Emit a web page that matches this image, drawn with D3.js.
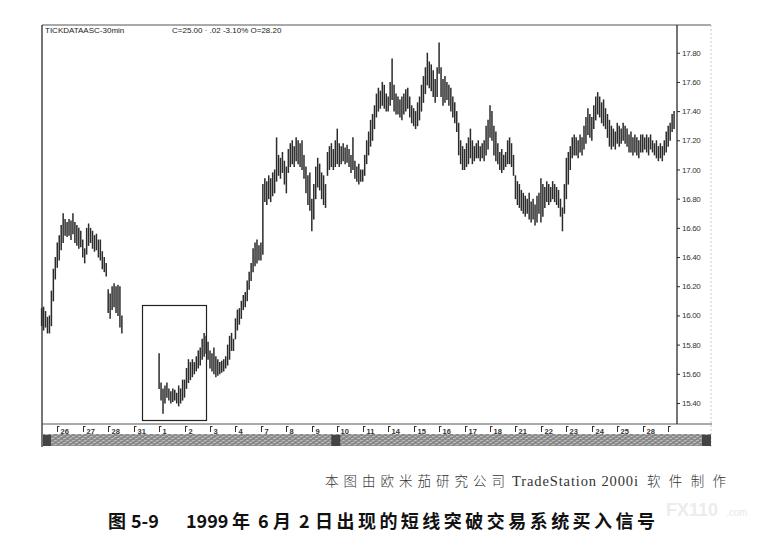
<!DOCTYPE html>
<html><head><meta charset="utf-8">
<script src="https://cdn.jsdelivr.net/npm/d3@7/dist/d3.min.js"></script>
<style>
html,body{margin:0;padding:0;background:#fff;}
svg{display:block;}
</style></head>
<body>
<script>
// ---------- data ----------
const symbolTitle = "TICKDATAASC-30min";
const quoteText = "C=25.00 · .02 -3.10% O=28.20";
const barsPerDay = 13;
const firstBar = 5;           // bar index of first visible bar (May 25 partial)
const dayLabels = ["26","27","28","31","1","2","3","4","7","8","9","10","11","14","15","16","17","18","21","22","23","24","25","28",""];
const priceTicks = [17.80,17.60,17.40,17.20,17.00,16.80,16.60,16.40,16.20,16.00,15.80,15.60,15.40];
const barHigh = [
 16.05,16.06,16.03,15.99,16.00,16.17,16.32,16.40,
 16.50,16.55,16.62,16.70,16.66,16.64,16.66,16.65,16.70,16.64,16.62,16.60,16.58,
 16.52,16.46,16.60,16.63,16.60,16.58,16.55,16.56,16.52,16.52,16.44,16.40,16.36,
 16.18,16.15,16.20,16.22,16.20,16.21,16.20,16.00,null,null,null,null,null,
 null,null,null,null,null,null,null,null,null,null,null,null,null,
 15.74,15.54,15.50,15.52,15.54,15.50,15.48,15.50,15.49,15.47,15.52,15.50,15.56,
 15.56,15.64,15.70,15.68,15.70,15.68,15.72,15.76,15.78,15.84,15.88,15.86,15.82,
 15.76,15.74,15.78,15.72,15.70,15.68,15.69,15.70,15.72,15.80,15.86,15.88,15.84,
 15.98,16.04,16.05,16.10,16.14,16.16,16.24,16.30,16.36,16.46,16.50,16.52,16.48,
 16.50,16.90,16.94,16.92,16.96,16.94,16.98,17.00,17.22,17.10,17.08,17.12,17.06,
 17.02,17.14,17.18,17.20,17.16,17.22,17.20,17.18,17.20,17.10,17.02,16.96,16.98,
 16.80,16.90,17.02,17.08,17.04,16.98,16.96,16.90,17.12,17.16,17.18,17.14,17.20,
 17.28,17.18,17.16,17.18,17.15,17.17,17.14,17.10,17.22,17.06,17.02,17.04,17.00,
 17.00,17.10,17.20,17.26,17.34,17.38,17.44,17.52,17.56,17.54,17.60,17.58,17.52,
 17.50,17.60,17.76,17.58,17.52,17.50,17.48,17.50,17.52,17.55,17.56,17.50,17.44,
 17.42,17.40,17.46,17.50,17.58,17.64,17.70,17.80,17.74,17.72,17.68,17.62,17.70,
 17.87,17.70,17.62,17.64,17.60,17.58,17.56,17.50,17.46,17.40,17.32,17.20,17.16,
 17.14,17.18,17.22,17.28,17.20,17.16,17.18,17.20,17.16,17.18,17.20,17.30,17.34,
 17.44,17.40,17.30,17.26,17.18,17.12,17.14,17.10,17.12,17.20,17.22,17.18,17.10,
 16.96,16.92,16.90,16.86,16.84,16.82,16.80,16.84,16.78,16.80,16.76,16.82,16.84,
 16.94,16.90,16.88,16.92,16.90,16.88,16.92,16.90,16.88,16.86,16.80,16.74,16.90,
 17.08,17.12,17.16,17.22,17.24,17.22,17.20,17.24,17.22,17.30,17.36,17.42,17.38,
 17.36,17.44,17.50,17.53,17.50,17.46,17.48,17.42,17.38,17.34,17.30,17.28,17.26,
 17.32,17.30,17.28,17.32,17.30,17.28,17.24,17.26,17.22,17.24,17.22,17.20,17.24,
 17.24,17.22,17.24,17.22,17.24,17.20,17.18,17.20,17.16,17.18,17.16,17.20,17.26,
 17.30,17.32,17.38,17.40
];
const barLow = [
 15.93,15.90,15.92,15.88,15.88,15.93,16.10,16.25,
 16.33,16.38,16.45,16.50,16.55,16.54,16.55,16.52,16.56,16.50,16.48,16.46,16.47,
 16.40,16.36,16.42,16.48,16.50,16.46,16.44,16.45,16.40,16.38,16.32,16.30,16.27,
 16.02,15.98,16.04,16.06,16.02,16.00,15.92,15.88,null,null,null,null,null,
 null,null,null,null,null,null,null,null,null,null,null,null,null,
 15.50,15.42,15.33,15.40,15.44,15.42,15.40,15.41,15.42,15.40,15.38,15.40,15.42,
 15.44,15.50,15.54,15.56,15.58,15.60,15.62,15.64,15.66,15.70,15.72,15.74,15.70,
 15.64,15.62,15.60,15.58,15.59,15.60,15.61,15.62,15.64,15.66,15.70,15.76,15.76,
 15.84,15.90,15.94,15.98,16.04,16.06,16.10,16.18,16.24,16.30,16.34,16.36,16.38,
 16.38,16.42,16.78,16.76,16.80,16.78,16.82,16.84,16.92,16.96,16.94,16.98,16.90,
 16.84,16.98,17.02,17.04,17.02,17.06,17.04,17.02,17.00,16.94,16.84,16.76,16.72,
 16.58,16.66,16.80,16.88,16.86,16.80,16.76,16.74,16.96,17.00,17.02,17.00,17.02,
 17.04,17.02,17.04,17.06,17.04,17.05,17.02,16.98,17.00,16.94,16.92,16.90,16.92,
 16.92,16.96,17.04,17.10,17.16,17.20,17.28,17.36,17.40,17.42,17.44,17.42,17.40,
 17.40,17.44,17.48,17.40,17.38,17.38,17.36,17.34,17.38,17.40,17.42,17.36,17.32,
 17.30,17.28,17.30,17.34,17.40,17.46,17.52,17.58,17.56,17.54,17.50,17.46,17.50,
 17.66,17.50,17.44,17.46,17.48,17.44,17.40,17.36,17.32,17.26,17.10,17.04,17.00,
 17.00,17.02,17.04,17.08,17.04,17.06,17.08,17.08,17.06,17.08,17.06,17.10,17.14,
 17.22,17.20,17.10,17.06,17.04,17.00,16.98,17.00,17.02,17.04,17.04,17.02,16.96,
 16.80,16.76,16.74,16.72,16.70,16.68,16.70,16.66,16.64,16.66,16.62,16.64,16.70,
 16.64,16.68,16.74,16.78,16.76,16.78,16.80,16.78,16.76,16.74,16.68,16.58,16.70,
 16.80,16.90,17.00,17.08,17.10,17.10,17.08,17.12,17.10,17.14,17.18,17.24,17.22,
 17.20,17.28,17.34,17.38,17.36,17.32,17.30,17.28,17.22,17.16,17.14,17.16,17.14,
 17.18,17.16,17.18,17.20,17.18,17.16,17.12,17.12,17.10,17.12,17.10,17.08,17.12,
 17.12,17.14,17.12,17.10,17.14,17.12,17.10,17.08,17.06,17.08,17.06,17.10,17.12,
 17.16,17.20,17.26,17.28
];
// annotation box around the June 1-2 breakout (bar index / price)
const boxBars = [56.3, 89.0];
const boxPrices = [16.07, 15.28];
const captionLine1 = ["本图由欧米茄研究公司", "TradeStation 2000i", "软件制作"];
const captionLine2 = ["图", "5-9", "1999", "年", "6", "月", "2", "日出现的短线突破交易系统买入信号"];
const watermark = ["FX110", ".com"];

// ---------- drawing ----------
(function draw() {
const W = 761, H = 548;
const svg = d3.select("body").append("svg").attr("width", W).attr("height", H);
svg.append("rect").attr("width", W).attr("height", H).attr("fill", "#ffffff");

const pL = 42, axisX = 677, frameRight = 711, pT = 25, pB = 424;
const x = d3.scaleLinear().domain([5.2, 329.5]).range([pL, axisX]);
const y = d3.scaleLinear().domain([15.256, 17.99]).range([pB, pT]);

const ink = "#2b2b2b";
const fontUI = "'Liberation Sans', Arial, sans-serif";

// watermark (behind everything)
svg.append("text").attr("x", 666).attr("y", 516).text(watermark[0])
  .attr("font-family", fontUI).attr("font-size", 18).attr("font-weight", "bold")
  .attr("fill", "#ececec");
svg.append("text").attr("x", 726).attr("y", 516).text(watermark[1])
  .attr("font-family", fontUI).attr("font-size", 10)
  .attr("fill", "#e8e8e8");

// frame
svg.append("line").attr("x1", pL).attr("x2", frameRight).attr("y1", pT).attr("y2", pT)
  .attr("stroke", "#555").attr("stroke-width", 1);
svg.append("line").attr("x1", pL).attr("x2", pL).attr("y1", pT).attr("y2", 447)
  .attr("stroke", ink).attr("stroke-width", 1.3);
svg.append("line").attr("x1", frameRight).attr("x2", frameRight).attr("y1", pT).attr("y2", 447)
  .attr("stroke", "#c8c8c8").attr("stroke-width", 1).attr("stroke-dasharray", "2,2");
svg.append("line").attr("x1", pL).attr("x2", frameRight + 1).attr("y1", pB).attr("y2", pB)
  .attr("stroke", "#555").attr("stroke-width", 1);

// price axis (right)
const yAxis = d3.axisRight(y).tickValues(priceTicks).tickFormat(d3.format(".2f")).tickSize(3).tickPadding(2);
const gy = svg.append("g").attr("transform", `translate(${axisX},0)`).call(yAxis);
gy.select(".domain").attr("stroke", ink).attr("stroke-width", 1.3).attr("d", `M0,${pT}V${pB}`);
gy.selectAll(".tick line").attr("stroke", ink);
gy.selectAll(".tick text").attr("fill", "#333").attr("font-family", fontUI).attr("font-size", 8)
  .attr("letter-spacing", "-0.3px");

// date axis (bottom)
const dayTickIdx = dayLabels.map((d, k) => (k + 1) * barsPerDay);
const gx = svg.append("g");
const dt = gx.selectAll("g").data(dayTickIdx).join("g")
  .attr("transform", d => `translate(${Math.round(x(d)) + 0.5},0)`);
dt.append("line").attr("y1", pB + 2).attr("y2", pB + 8).attr("stroke", "#333").attr("stroke-width", 1);
dt.append("line").attr("x1", 0).attr("x2", 2).attr("y1", pB + 2.5).attr("y2", pB + 2.5).attr("stroke", "#333");
dt.append("text").attr("x", 3).attr("y", pB + 10).text((d, k) => dayLabels[k])
  .attr("font-family", fontUI).attr("font-size", 7.5).attr("font-weight", "bold").attr("fill", "#333");

// scrollbar strip
const defs = svg.append("defs");
const pat = defs.append("pattern").attr("id", "strip").attr("patternUnits", "userSpaceOnUse")
  .attr("width", 6).attr("height", 4);
pat.append("rect").attr("width", 6).attr("height", 4).attr("fill", "#8a8a8a");
pat.append("path").attr("d", "M0,1 L3,0 M3,3 L6,2").attr("stroke", "#d4d4d4").attr("stroke-width", 0.8);
svg.append("rect").attr("x", 43).attr("y", 434).attr("width", frameRight - 43).attr("height", 12)
  .attr("fill", "url(#strip)");
[[43, 8], [x(12 * barsPerDay) - 6, 9], [frameRight - 9, 9]].forEach(([bx, bw]) => {
  svg.append("rect").attr("x", bx).attr("y", 435).attr("width", bw).attr("height", 11).attr("fill", "#444");
});

// title texts
svg.append("text").attr("x", 45).attr("y", 33).text(symbolTitle)
  .attr("font-family", fontUI).attr("font-size", 8).attr("fill", "#222");
svg.append("text").attr("x", 172).attr("y", 33).text(quoteText)
  .attr("font-family", fontUI).attr("font-size", 8).attr("fill", "#222");

// bars
const bars = barHigh.map((h, k) => ({ i: firstBar + k, h, l: barLow[k] })).filter(b => b.h != null);
svg.append("g").selectAll("line").data(bars).join("line")
  .attr("x1", b => x(b.i)).attr("x2", b => x(b.i))
  .attr("y1", b => y(b.h)).attr("y2", b => y(b.l) + 0.5)
  .attr("stroke", ink).attr("stroke-width", 1.5);

// annotation box
svg.append("rect")
  .attr("x", Math.round(x(boxBars[0])) + 0.5).attr("y", Math.round(y(boxPrices[0])) + 0.5)
  .attr("width", Math.round(x(boxBars[1]) - x(boxBars[0])))
  .attr("height", Math.round(y(boxPrices[1]) - y(boxPrices[0])))
  .attr("fill", "none").attr("stroke", "#222").attr("stroke-width", 1.2);

// caption line 1
const c1 = [
  { t: captionLine1[0], x: 325, len: 180, ff: "'Noto Sans CJK SC', sans-serif", fs: 13.5 },
  { t: captionLine1[1], x: 512, len: 126, ff: "'Liberation Serif', serif", fs: 14.5 },
  { t: captionLine1[2], x: 647, len: 79, ff: "'Noto Sans CJK SC', sans-serif", fs: 13.5 }
];
svg.append("g").selectAll("text").data(c1).join("text")
  .attr("x", d => d.x).attr("y", 486).text(d => d.t)
  .attr("font-family", d => d.ff).attr("font-size", d => d.fs).attr("font-weight", 300)
  .attr("fill", "#333").attr("textLength", d => d.len).attr("lengthAdjust", "spacing");

// caption line 2
const c2x = [108, 131, 186, 232, 258, 273, 299, 315];
const c2len = [null, null, null, null, null, null, null, 340];
svg.append("g").selectAll("text").data(captionLine2).join("text")
  .attr("x", (d, k) => c2x[k]).attr("y", 528).text(d => d)
  .attr("font-family", "'Noto Sans CJK SC', sans-serif").attr("font-size", 18).attr("font-weight", "bold")
  .attr("fill", "#111")
  .each(function (d, k) { if (c2len[k]) d3.select(this).attr("textLength", c2len[k]).attr("lengthAdjust", "spacing"); });
})();
</script>
</body></html>
